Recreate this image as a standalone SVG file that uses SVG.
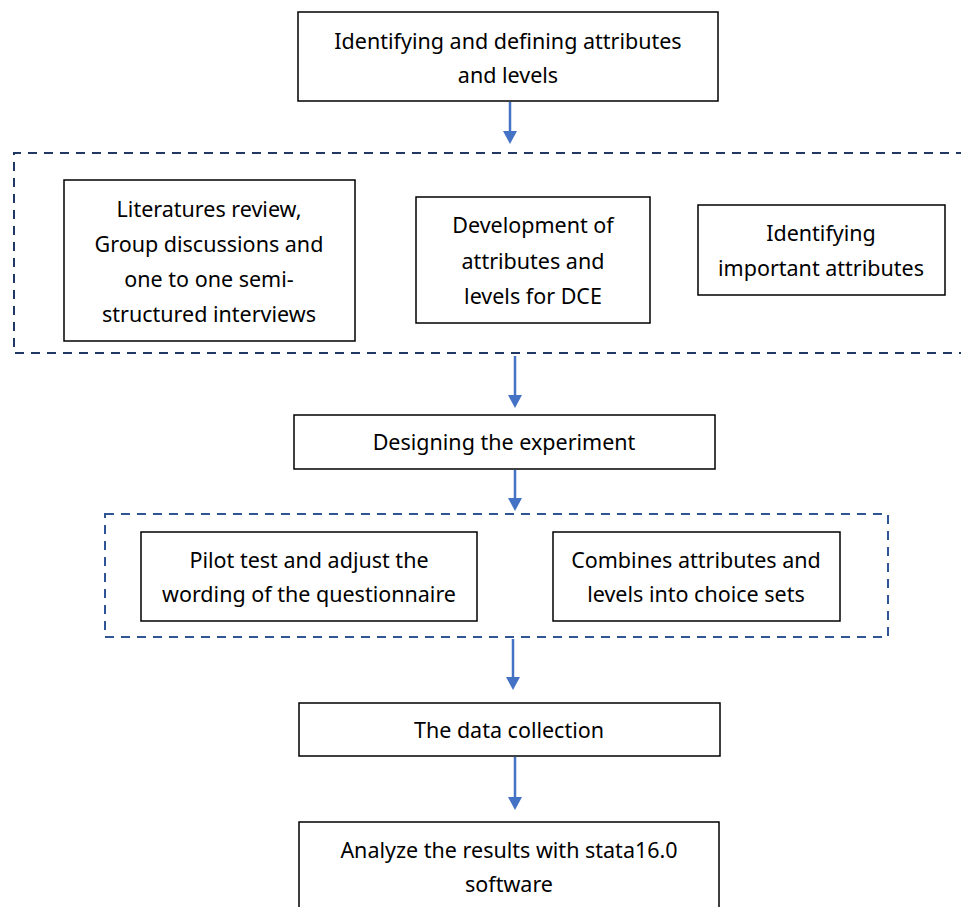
<svg xmlns="http://www.w3.org/2000/svg" width="961" height="907" viewBox="0 0 961 907">
<defs>
<marker id="ah" markerWidth="14" markerHeight="14" refX="1" refY="7" orient="auto" markerUnits="userSpaceOnUse" viewBox="0 0 14 14">
<path d="M0,0 L13,7 L0,14 Z" fill="#4472C4"/>
</marker>
</defs>
<style>
.box{fill:#fff;stroke:#000;stroke-width:1.5}
.t{font-family:"Noto Sans","Open Sans","Liberation Sans",sans-serif;font-size:21.5px;fill:#000;text-anchor:middle;dominant-baseline:central}
.dash1{fill:none;stroke:#203864;stroke-width:2;stroke-dasharray:9,7}
.dash2{fill:none;stroke:#2F5597;stroke-width:2;stroke-dasharray:9,7}
.arr{stroke:#4472C4;stroke-width:2.5;fill:none}
</style>
<rect width="961" height="907" fill="#fff"/>
<g id="group1">
<path class="dash1" d="M965,153 L14,153 L14,353 L965,353"/>
</g>
<g id="group2">
<rect class="dash2" x="105" y="514" width="783" height="123"/>
</g>
<g id="n1">
<rect class="box" x="298" y="12" width="420" height="89"/>
<text class="t" x="508" y="40">Identifying and defining attributes</text>
<text class="t" x="508" y="74">and levels</text>
</g>
<g id="n2">
<rect class="box" x="64" y="180" width="291" height="161"/>
<text class="t" x="209" y="208">Literatures review,</text>
<text class="t" x="209" y="243">Group discussions and</text>
<text class="t" x="209" y="278">one to one semi-</text>
<text class="t" x="209" y="313">structured interviews</text>
</g>
<g id="n3">
<rect class="box" x="416" y="197" width="234" height="126"/>
<text class="t" x="533" y="224">Development of</text>
<text class="t" x="533" y="260">attributes and</text>
<text class="t" x="533" y="295">levels for DCE</text>
</g>
<g id="n4">
<rect class="box" x="698" y="205" width="247" height="90"/>
<text class="t" x="821" y="232">Identifying</text>
<text class="t" x="821" y="267">important attributes</text>
</g>
<g id="n5">
<rect class="box" x="294" y="415" width="421" height="54"/>
<text class="t" x="504" y="441">Designing the experiment</text>
</g>
<g id="n6">
<rect class="box" x="141" y="532" width="336" height="89"/>
<text class="t" x="309" y="559">Pilot test and adjust the</text>
<text class="t" x="309" y="593">wording of the questionnaire</text>
</g>
<g id="n7">
<rect class="box" x="553" y="532" width="287" height="89"/>
<text class="t" x="696" y="559">Combines attributes and</text>
<text class="t" x="696" y="593">levels into choice sets</text>
</g>
<g id="n8">
<rect class="box" x="299" y="703" width="421" height="53"/>
<text class="t" x="509" y="729">The data collection</text>
</g>
<g id="n9">
<rect class="box" x="299" y="822" width="420" height="100"/>
<text class="t" x="509" y="849">Analyze the results with stata16.0</text>
<text class="t" x="509" y="883">software</text>
</g>
<g id="connectors">
<line class="arr" x1="510" y1="102" x2="510" y2="132" marker-end="url(#ah)"/>
<line class="arr" x1="515" y1="356" x2="515" y2="396" marker-end="url(#ah)"/>
<line class="arr" x1="515" y1="470" x2="515" y2="499" marker-end="url(#ah)"/>
<line class="arr" x1="513" y1="639" x2="513" y2="678" marker-end="url(#ah)"/>
<line class="arr" x1="515" y1="757" x2="515" y2="798" marker-end="url(#ah)"/>
</g>
</svg>
